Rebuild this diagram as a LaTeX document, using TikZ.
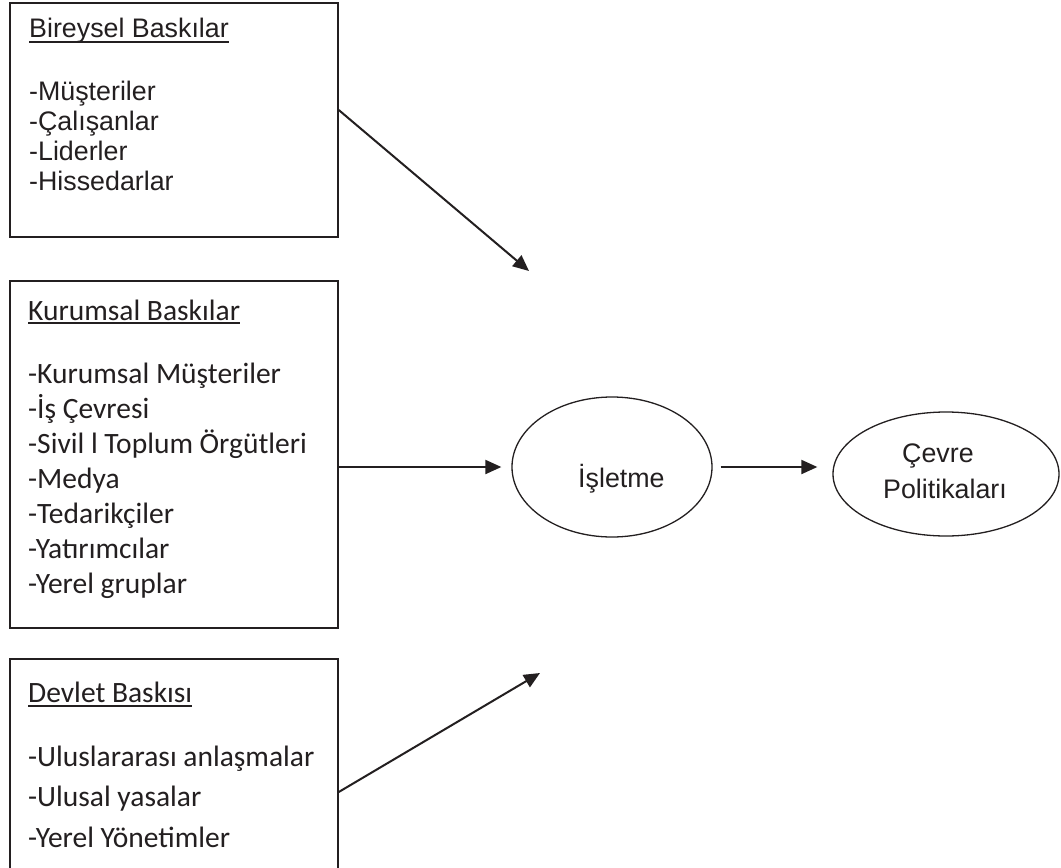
\documentclass[tikz,border=0pt]{standalone}
\usepackage{fontspec}
\newfontfamily\arialf{Liberation Sans}
\newfontfamily\calf{Carlito}
\usetikzlibrary{arrows.meta,shapes.geometric}
\definecolor{ink}{HTML}{231F20}
\begin{document}
\begin{tikzpicture}[x=1pt,y=-1pt,
  boxst/.style={draw=ink, line width=1.5pt, rectangle, inner sep=0pt},
  ellst/.style={draw=ink, line width=1.3pt, ellipse, inner sep=0pt},
  txa/.style={anchor=base west, inner sep=0pt, text=ink, font=\arialf\fontsize{26.8}{30}\selectfont},
  txc/.style={anchor=base west, inner sep=0pt, text=ink, font=\calf\fontsize{29.5}{34}\selectfont},
  arr/.style={draw=ink, line width=2pt, -{Triangle[length=16pt,width=14pt]}},
  ul/.style={draw=ink, line width=1.4pt}]
\useasboundingbox (0,0) rectangle (1061,868);
\fill[white] (0,0) rectangle (1061,868);

% boxes
\node[boxst, minimum width=328pt, minimum height=234pt] (b1) at (174,120) {};
\node[boxst, minimum width=328pt, minimum height=347pt] (b2) at (174,454.5) {};
\node[boxst, minimum width=328pt, minimum height=241pt] (b3) at (174,779.5) {};

% box 1 texts
\node[txa] (h1) at (29,37.5) {Bireysel Baskılar};
\draw[ul] ([yshift=-4.5pt]h1.base west) -- ([yshift=-4.5pt]h1.base east);
\node[txa] (p1) at (29,100) {-Müşteriler};
\node[txa] (p2) at (29,130.3) {-Çalışanlar};
\node[txa] (p3) at (29,160.6) {-Liderler};
\node[txa] (p4) at (29,190.9) {-Hissedarlar};

% box 2 texts
\node[txc] (h2) at (28,320) {Kurumsal Baskılar};
\draw[ul] ([yshift=-3pt]h2.base west) -- ([yshift=-3pt]h2.base east);
\node[txc] (k1) at (28,383) {-Kurumsal Müşteriler};
\node[txc] (k2) at (28,418) {-İş Çevresi};
\node[txc] (k3) at (28,453) {-Sivil l Toplum Örgütleri};
\node[txc] (k4) at (28,488) {-Medya};
\node[txc] (k5) at (28,523) {-Tedarikçiler};
\node[txc] (k6) at (28,558) {-Yatırımcılar};
\node[txc] (k7) at (28,593) {-Yerel gruplar};

% box 3 texts
\node[txc] (h3) at (28,702) {Devlet Baskısı};
\draw[ul] ([yshift=-4pt]h3.base west) -- ([yshift=-4pt]h3.base east);
\node[txc] (d1) at (28,766) {-Uluslararası anlaşmalar};
\node[txc] (d2) at (28,806) {-Ulusal yasalar};
\node[txc] (d3) at (28,847) {-Yerel Yönetimler};

% ellipses
\node[ellst, minimum width=200pt, minimum height=140pt] (i) at (612,467) {};
\node[txa] (it) at (578,487) {İşletme};
\node[ellst, minimum width=226pt, minimum height=124pt] (c) at (946,474) {};
\node[txa] (ct1) at (902,462) {Çevre};
\node[txa] (ct2) at (883,498) {Politikaları};

% arrow ends
\coordinate (t1) at (529,271);
\coordinate (t3) at (540,673);

% connectors
\draw[arr] ([yshift=10pt]b1.east) -- (t1);
\draw[arr] (b2.east |- i.west) -- ([xshift=-10pt]i.west);
\draw[arr] ([yshift=-12.5pt]b3.east) -- (t3);
\draw[arr] ([xshift=8pt]i.east) -- ([xshift=-15pt]c.west |- i.east);
\end{tikzpicture}
\end{document}
